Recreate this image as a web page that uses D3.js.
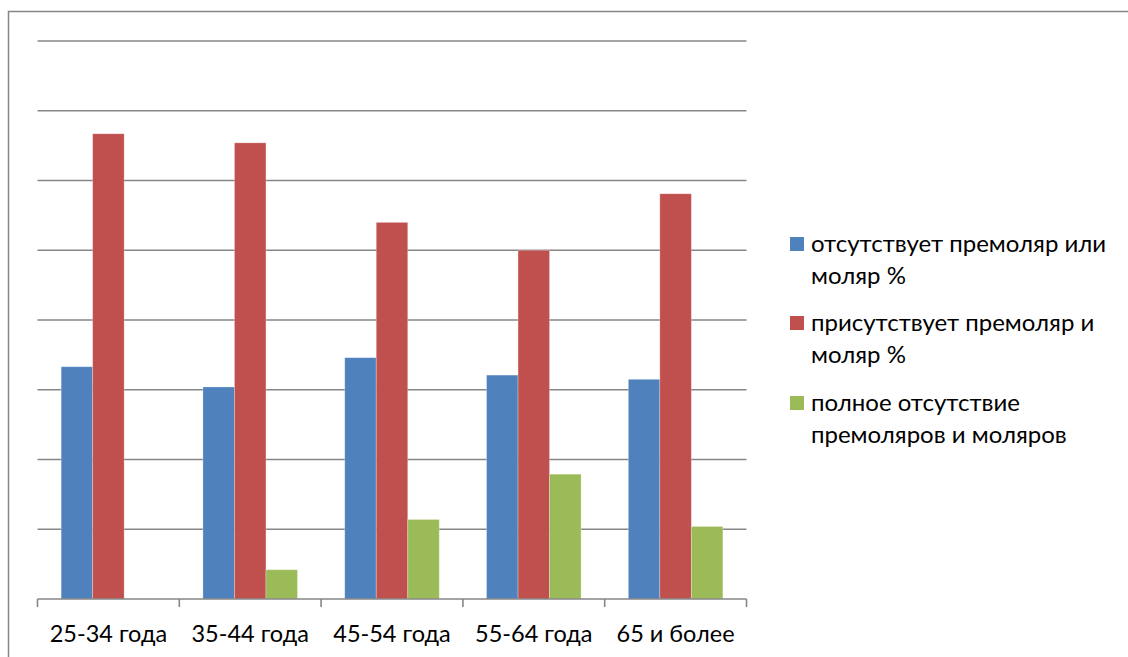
<!DOCTYPE html>
<html>
<head>
<meta charset="utf-8">
<script src="https://cdn.jsdelivr.net/npm/d3@7/dist/d3.min.js"></script>
<style>
  html, body { margin: 0; padding: 0; background: #fff; }
  svg { display: block; }
  text { font-family: Lato, "Liberation Sans", sans-serif; fill: #000; }
</style>
</head>
<body>
<svg id="chart" width="1128" height="657"></svg>
<script>
// Age groups on the x axis
const categories = ["25-34 года", "35-44 года", "45-54 года", "55-64 года", "65 и более"];

// Series names (legend entries, each split into two lines)
const seriesNames = [
  ["отсутствует премоляр или", "моляр %"],
  ["присутствует премоляр и", "моляр %"],
  ["полное отсутствие", "премоляров и моляров"]
];
const seriesColors = ["#4F81BD", "#C0504D", "#9BBB59"];

// Percent values per series, in category order
const missingOne   = [33.3, 30.4, 34.6, 32.1, 31.5];
const presentBoth  = [66.7, 65.4, 54.0, 50.0, 58.1];
const missingAll   = [0.0, 4.2, 11.4, 17.9, 10.4];
const seriesValues = [missingOne, presentBoth, missingAll];

// Horizontal gridline values
const gridValues = [10, 20, 30, 40, 50, 60, 70, 80];

const svg = d3.select("#chart");

// Outer chart frame
svg.append("rect")
  .attr("x", 8.5).attr("y", 11.5)
  .attr("width", 1130).attr("height", 660)
  .attr("fill", "none")
  .attr("stroke", "#868686")
  .attr("stroke-width", 1.5);

const plot = { left: 37.5, right: 746.5, top: 41, bottom: 599 };

const x = d3.scaleBand()
  .domain(categories)
  .range([plot.left, plot.right])
  .paddingInner(0).paddingOuter(0);

const xs = d3.scaleBand()
  .domain(d3.range(seriesValues.length))
  .range([0, x.bandwidth()])
  .paddingInner(0).paddingOuter(0.75);

const y = d3.scaleLinear()
  .domain([0, 80])
  .range([plot.bottom, plot.top]);

// Gridlines
svg.append("g")
  .selectAll("line")
  .data(gridValues)
  .join("line")
  .attr("x1", plot.left).attr("x2", plot.right)
  .attr("y1", d => y(d)).attr("y2", d => y(d))
  .attr("stroke", "#868686")
  .attr("stroke-width", 1.6);

// Bars
const groups = svg.append("g")
  .selectAll("g")
  .data(categories)
  .join("g")
  .attr("transform", d => `translate(${x(d)},0)`);

groups.selectAll("rect")
  .data((c, i) => seriesValues.map((vals, s) => ({ s, v: vals[i] })))
  .join("rect")
  .filter(d => d.v > 0)
  .attr("x", d => xs(d.s))
  .attr("width", xs.bandwidth())
  .attr("y", d => y(d.v))
  .attr("height", d => y(0) - y(d.v))
  .attr("fill", d => seriesColors[d.s])
  .attr("stroke", "rgba(255,255,255,0.35)")
  .attr("stroke-width", 0.8);

// Category axis
const xAxis = svg.append("g")
  .attr("transform", `translate(0,${plot.bottom})`);

xAxis.append("line")
  .attr("x1", plot.left).attr("x2", plot.right)
  .attr("y1", 0).attr("y2", 0)
  .attr("stroke", "#868686")
  .attr("stroke-width", 1.6);

const tickPositions = categories.map(c => x(c)).concat([x.range()[1]]);
xAxis.selectAll("line.tick")
  .data(tickPositions)
  .join("line")
  .attr("class", "tick")
  .attr("x1", d => d).attr("x2", d => d)
  .attr("y1", 0).attr("y2", 8)
  .attr("stroke", "#868686")
  .attr("stroke-width", 1.6);

xAxis.selectAll("text")
  .data(categories)
  .join("text")
  .attr("x", d => x(d) + x.bandwidth() / 2)
  .attr("y", 43)
  .attr("text-anchor", "middle")
  .attr("font-size", 23.5)
  .text(d => d);

// Legend
const legend = svg.append("g");
const legendTop = [252, 331, 411];
seriesNames.forEach((lines, s) => {
  const g = legend.append("g");
  g.append("rect")
    .attr("x", 790).attr("y", legendTop[s] - 15)
    .attr("width", 14).attr("height", 14)
    .attr("fill", seriesColors[s]);
  lines.forEach((t, k) => {
    g.append("text")
      .attr("x", 811)
      .attr("y", legendTop[s] + k * 31.5)
      .attr("font-size", 24)
      .text(t);
  });
});
</script>
</body>
</html>
